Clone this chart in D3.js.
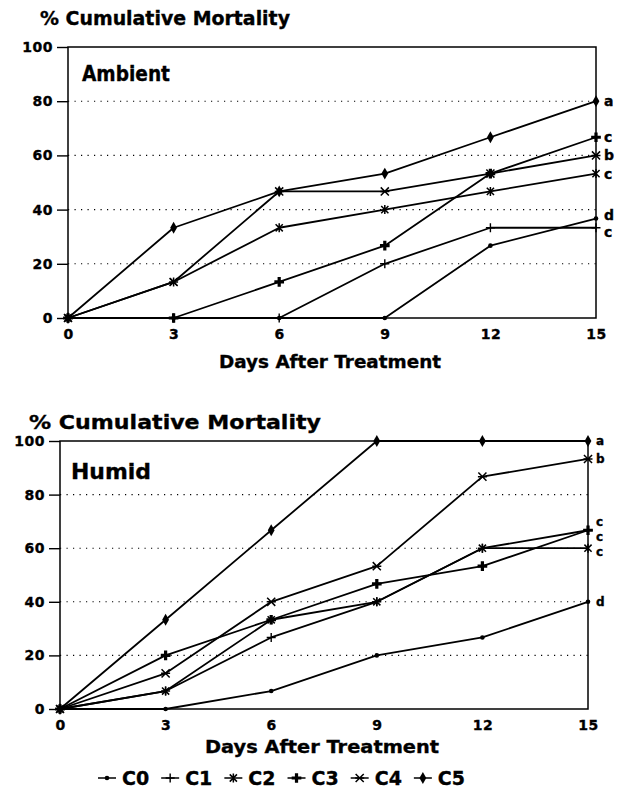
<!DOCTYPE html>
<html>
<head>
<meta charset="utf-8">
<script src="https://cdn.jsdelivr.net/npm/d3@7"></script>
<style>
  body { margin: 0; background: #fff; }
  text { font-family: "DejaVu Sans", sans-serif; font-weight: bold; fill: #000; stroke: #000; stroke-width: 0.35; }
</style>
</head>
<body>
<div id="chart"></div>
<script>
// days after treatment, series names, y ticks
const days = [0, 3, 6, 9, 12, 15];
const seriesNames = ["C0", "C1", "C2", "C3", "C4", "C5"];
const yTicks = [0, 20, 40, 60, 80, 100];
const gridTicks = [20, 40, 60, 80];

// Ambient (% cumulative mortality)
const ambientC0 = [0, 0, 0, 0, 26.7, 36.7];
const ambientC1 = [0, 0, 0, 20, 33.3, 33.3];
const ambientC2 = [0, 13.3, 33.3, 40, 46.7, 53.3];
const ambientC3 = [0, 0, 13.3, 26.7, 53.3, 66.7];
const ambientC4 = [0, 13.3, 46.7, 46.7, 53.3, 60];
const ambientC5 = [0, 33.3, 46.7, 53.3, 66.7, 80];
const ambientLetters = ["d", "c", "c", "c", "b", "a"];

// Humid
const humidC0 = [0, 0, 6.7, 20, 26.7, 40];
const humidC1 = [0, 6.7, 26.7, 40, 60, 66.7];
const humidC2 = [0, 6.7, 33.3, 40, 60, 60];
const humidC3 = [0, 20, 33.3, 46.7, 53.3, 66.7];
const humidC4 = [0, 13.3, 40, 53.3, 86.7, 93.3];
const humidC5 = [0, 33.3, 66.7, 100, 100, 100];
const humidLetters = ["d", "c", "c", "c", "b", "a"];

const width = 622, height = 796;
const svg = d3.select("#chart").append("svg")
  .attr("width", width)
  .attr("height", height);

// marker shapes, drawn round (0,0)
function drawMarker(g, name) {
  const s = 4.5;
  if (name === "C0") {
    g.append("circle").attr("r", 2.3).attr("fill", "#000");
  } else if (name === "C1") {
    g.append("path").attr("d", `M${-s},0H${s}M0,${-s}V${s}`)
      .attr("stroke", "#000").attr("stroke-width", 1.4).attr("fill", "none");
  } else if (name === "C2") {
    g.append("path").attr("d", `M${-s*0.8},${-s*0.8}L${s*0.8},${s*0.8}M${-s*0.8},${s*0.8}L${s*0.8},${-s*0.8}M0,${-s}V${s}`)
      .attr("stroke", "#000").attr("stroke-width", 1.5).attr("fill", "none");
  } else if (name === "C3") {
    g.append("path").attr("d", d3.symbol(d3.symbolCross, 52)())
      .attr("fill", "#000");
  } else if (name === "C4") {
    g.append("path").attr("d", `M${-s*0.9},${-s*0.9}L${s*0.9},${s*0.9}M${-s*0.9},${s*0.9}L${s*0.9},${-s*0.9}M${-s},0H${s}`)
      .attr("stroke", "#000").attr("stroke-width", 1.5).attr("fill", "none");
  } else if (name === "C5") {
    g.append("path").attr("d", d3.symbol(d3.symbolDiamond, 40)())
      .attr("fill", "#000");
  }
}

function drawPanel(p) {
  const x = d3.scaleLinear().domain([0, 15]).range([p.left, p.right]);
  const y = d3.scaleLinear().domain([0, 100]).range([p.bottom, p.top]);
  const g = svg.append("g");

  // dotted grid
  g.selectAll(".grid").data(gridTicks).enter().append("line")
    .attr("x1", p.left).attr("x2", p.right)
    .attr("y1", d => y(d)).attr("y2", d => y(d))
    .attr("stroke", "#000").attr("stroke-width", 1.1)
    .attr("stroke-dasharray", "1.2,5.3");

  // axes
  const yAxis = g.append("g").attr("transform", `translate(${p.left},0)`)
    .call(d3.axisLeft(y).tickValues(yTicks).tickSize(11).tickSizeOuter(0).tickPadding(4));
  yAxis.select(".domain").remove();
  yAxis.selectAll(".tick line").attr("stroke-width", 1.4);
  yAxis.selectAll("text").attr("font-size", 14).attr("letter-spacing", 0.5)
    .attr("font-family", "DejaVu Sans").attr("font-weight", "bold");

  const xAxis = g.append("g").attr("transform", `translate(0,${p.bottom})`)
    .call(d3.axisBottom(x).tickValues(days).tickSize(0).tickPadding(11));
  xAxis.select(".domain").remove();
  xAxis.selectAll("text").attr("font-size", 14).attr("letter-spacing", 0.5)
    .attr("font-family", "DejaVu Sans").attr("font-weight", "bold");

  // frame
  g.append("rect")
    .attr("x", p.left).attr("y", p.top)
    .attr("width", p.right - p.left).attr("height", p.bottom - p.top)
    .attr("fill", "none").attr("stroke", "#000").attr("stroke-width", 1.5);

  // titles
  g.append("text").attr("x", p.titleX).attr("y", p.titleY)
    .attr("font-size", p.titleSize).attr("textLength", p.titleLen)
    .attr("lengthAdjust", "spacingAndGlyphs").text("% Cumulative Mortality");
  g.append("text").attr("x", p.labelX).attr("y", p.labelY)
    .attr("font-size", 21).attr("textLength", p.labelLen)
    .attr("lengthAdjust", "spacingAndGlyphs").text(p.label);
  g.append("text").attr("x", p.xTitleX - p.xTitleLen / 2).attr("y", p.xTitleY)
    .attr("font-size", 18.5).attr("textLength", p.xTitleLen)
    .attr("lengthAdjust", "spacingAndGlyphs").text("Days After Treatment");

  // series lines + markers
  const line = d3.line().x((d, i) => x(days[i])).y(d => y(d));
  p.data.forEach((vals, k) => {
    g.append("path").datum(vals)
      .attr("d", line)
      .attr("fill", "none").attr("stroke", "#000").attr("stroke-width", 1.8)
      .attr("stroke-linejoin", "round");
    vals.forEach((v, i) => {
      const m = g.append("g").attr("transform", `translate(${x(days[i])},${y(v)})`);
      drawMarker(m, seriesNames[k]);
    });
  });

  // significance letters at the right, pushed apart symmetrically
  const labs = p.data.map((vals, k) => ({ t: p.letters[k], y: y(vals[vals.length - 1]) }))
    .sort((a, b) => b.y - a.y);
  for (let it = 0; it < 30; it++) {
    for (let i = 1; i < labs.length; i++) {
      const d = labs[i - 1].y - labs[i].y;
      if (d < p.gap) {
        const push = (p.gap - d) / 2;
        labs[i - 1].y += push;
        labs[i].y -= push;
      }
    }
  }
  g.selectAll(".lab").data(labs).enter().append("text")
    .attr("x", p.right + 8).attr("y", d => d.y)
    .attr("dy", "0.36em").attr("font-size", p.letterSize).text(d => d.t);
}

drawPanel({
  left: 68, right: 596, top: 47, bottom: 318,
  titleX: 40, titleY: 25, titleSize: 19, titleLen: 250,
  label: "Ambient", labelX: 82, labelY: 81, labelLen: 88,
  xTitleX: 330, xTitleY: 368, xTitleLen: 222,
  data: [ambientC0, ambientC1, ambientC2, ambientC3, ambientC4, ambientC5],
  letters: ambientLetters, gap: 17, letterSize: 14
});

drawPanel({
  left: 60, right: 588, top: 441, bottom: 709,
  titleX: 29, titleY: 429, titleSize: 20, titleLen: 292,
  label: "Humid", labelX: 71, labelY: 479, labelLen: 80,
  xTitleX: 322, xTitleY: 753, xTitleLen: 234,
  data: [humidC0, humidC1, humidC2, humidC3, humidC4, humidC5],
  letters: humidLetters, gap: 15, letterSize: 12
});

// legend
const legend = svg.append("g").attr("transform", "translate(98,778)");
let lx = 0;
seriesNames.forEach(name => {
  legend.append("line").attr("x1", lx).attr("x2", lx + 18)
    .attr("stroke", "#000").attr("stroke-width", 1.5);
  const m = legend.append("g").attr("transform", `translate(${lx + 9},0)`);
  drawMarker(m, name);
  const t = legend.append("text").attr("x", lx + 24).attr("y", 0).attr("dy", "0.36em")
    .attr("font-size", 19).text(name);
  lx += 24 + t.node().getComputedTextLength() + 12;
});
</script>
</body>
</html>
